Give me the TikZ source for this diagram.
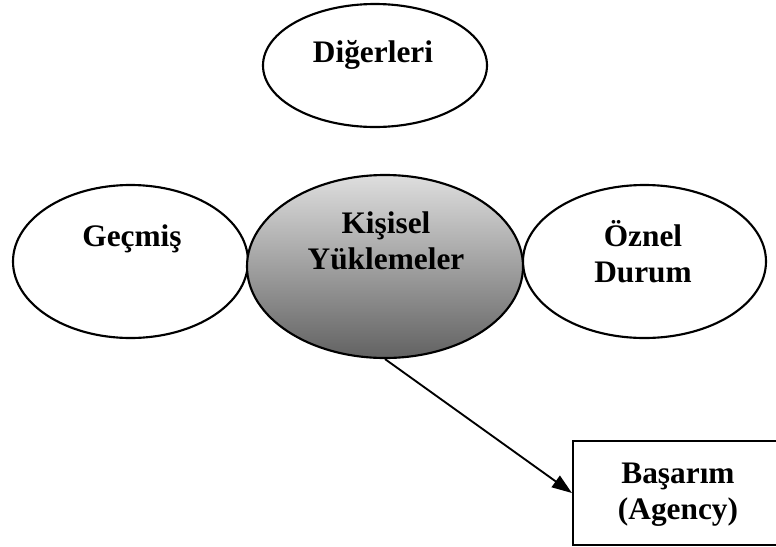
\documentclass[tikz,border=0pt]{standalone}
\usepackage{fontspec}
\setmainfont{Liberation Serif}
\usetikzlibrary{shapes.geometric,arrows.meta}
\tikzset{
  oval/.style={ellipse, draw=black, line width=1.6pt, inner sep=0pt, fill=white},
  shadedoval/.style={ellipse, draw=black, line width=1.6pt, inner sep=0pt,
    top color={rgb,255:red,222;green,222;blue,222},
    bottom color={rgb,255:red,98;green,98;blue,98}},
  boxnode/.style={rectangle, draw=black, line width=1.6pt, inner sep=0pt, fill=white},
  lbl/.style={font=\fontsize{23.5}{27}\selectfont\bfseries, align=center, inner sep=0pt},
  arr/.style={-{Triangle[length=15pt,width=10.5pt]}, line width=1.4pt}
}
\begin{document}
\begin{tikzpicture}[x=0.75pt,y=-0.75pt]
\useasboundingbox (0,0) rectangle (776,547);
% ellipses
\node[oval, minimum width=168pt, minimum height=92.25pt] (dig) at (375,65.5) {};
\node[oval, minimum width=176.25pt, minimum height=114.75pt] (gec) at (130.5,261.5) {};
\node[oval, minimum width=182.25pt, minimum height=114.75pt] (ozn) at (644.5,261.5) {};
\node[shadedoval, minimum width=207pt, minimum height=137.25pt] (kis) at (385,266.5) {};
\node[boxnode, minimum width=153.75pt, minimum height=78pt] (bas) at (675.5,493) {};
% labels
\node[lbl, anchor=base] (digt) at (373,62) {Diğerleri};
\node[lbl, anchor=base] (gect) at (132,246) {Geçmiş};
\node[lbl] (kist) at (386,241) {Kişisel\\Yüklemeler};
\node[lbl] (oznt) at (643,252) {Öznel\\Durum};
\node[lbl] (bast) at (678,495) {Başarım\\(Agency)};
% connector
\draw[arr] (kis.south) -- (bas.west);
\end{tikzpicture}
\end{document}
